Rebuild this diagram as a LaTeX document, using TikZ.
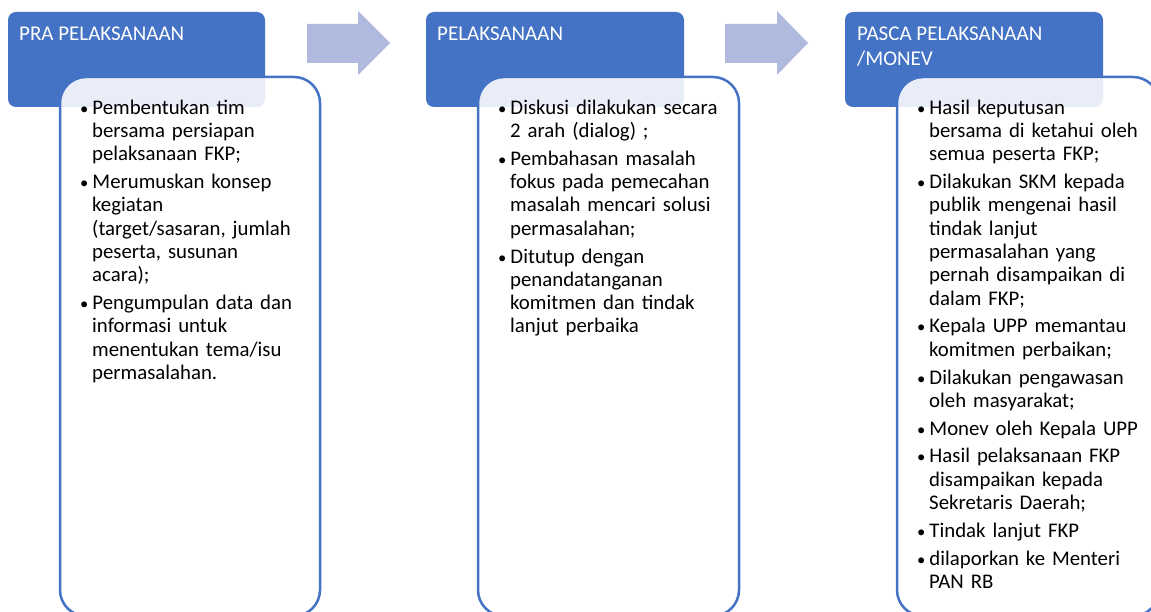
\documentclass[tikz,border=0pt]{standalone}
\usepackage{fontspec}
\setmainfont{Carlito}
\definecolor{biru}{RGB}{68,114,196}
\definecolor{birumuda}{RGB}{175,186,222}
\newenvironment{poin}{\begin{list}{\scalebox{0.8}{\textbullet}}{\setlength{\leftmargin}{12pt}\setlength{\labelwidth}{8pt}\setlength{\labelsep}{4pt}\setlength{\itemsep}{4.5pt}\setlength{\parsep}{0pt}\setlength{\topsep}{0pt}\setlength{\partopsep}{0pt}}}{\end{list}}
\tikzset{
	kepala/.style={fill=biru, rounded corners=8pt},
	badan/.style={draw=biru, line width=2.5pt, fill=white, fill opacity=0.88, rounded corners=26pt},
	panah/.style={fill=birumuda},
	judul/.style={text=white, anchor=base west, inner sep=0pt, align=left, font=\fontsize{21}{25}\selectfont},
	isi/.style={anchor=base west, inner sep=0pt, text width=250pt, align=left, font=\fontsize{20.8}{23.3}\selectfont},
}

\begin{document}
\begin{tikzpicture}[x=1pt,y=-1pt]
	\useasboundingbox (0,0) rectangle (1151,612);
	\clip (0,0) rectangle (1151,612);
	\fill[kepala] (8,12) rectangle (265,107);
	\fill[kepala] (426,12) rectangle (684,107);
	\fill[kepala] (845,12) rectangle (1103,107);
	\fill[panah] (307,24) -- (358,24) -- (358,11) -- (390,43) -- (358,75) -- (358,63) -- (307,63) -- cycle;
	\fill[panah] (725,24) -- (777,24) -- (777,11) -- (808,43) -- (777,75) -- (777,63) -- (725,63) -- cycle;
	\draw[badan] (60,77) rectangle (320,616);
	\draw[badan] (478,77) rectangle (739,616);
	\draw[badan] (897,77) rectangle (1159,616);
	\node[judul] (pra) at (19,41) {PRA PELAKSANAAN};
	\node[judul] (laksana) at (437,41) {PELAKSANAAN};
	\node[judul] (pasca) at (857,66) {PASCA PELAKSANAAN\\/MONEV};
	\node[isi] (isipra) at (80,91) {\begin{poin}
		\item Pembentukan tim\\bersama persiapan\\pelaksanaan FKP;
		\item Merumuskan konsep\\kegiatan\\(target/sasaran, jumlah\\peserta, susunan\\acara);
		\item Pengumpulan data dan\\informasi untuk\\menentukan tema/isu\\permasalahan.
	\end{poin}};
	\node[isi] (isilaksana) at (498,91) {\begin{poin}
		\item Diskusi dilakukan secara\\2 arah (dialog) ;
		\item Pembahasan masalah\\fokus pada pemecahan\\masalah mencari solusi\\permasalahan;
		\item Ditutup dengan\\penandatanganan\\komitmen dan tindak\\lanjut perbaika
	\end{poin}};
	\node[isi] (isipasca) at (917,91) {\begin{poin}
		\item Hasil keputusan\\bersama di ketahui oleh\\semua peserta FKP;
		\item Dilakukan SKM kepada\\publik mengenai hasil\\tindak lanjut\\permasalahan yang\\pernah disampaikan di\\dalam FKP;
		\item Kepala UPP memantau\\komitmen perbaikan;
		\item Dilakukan pengawasan\\oleh masyarakat;
		\item Monev oleh Kepala UPP
		\item Hasil pelaksanaan FKP\\disampaikan kepada\\Sekretaris Daerah;
		\item Tindak lanjut FKP
		\item dilaporkan ke Menteri\\PAN RB
	\end{poin}};
\end{tikzpicture}
\end{document}
